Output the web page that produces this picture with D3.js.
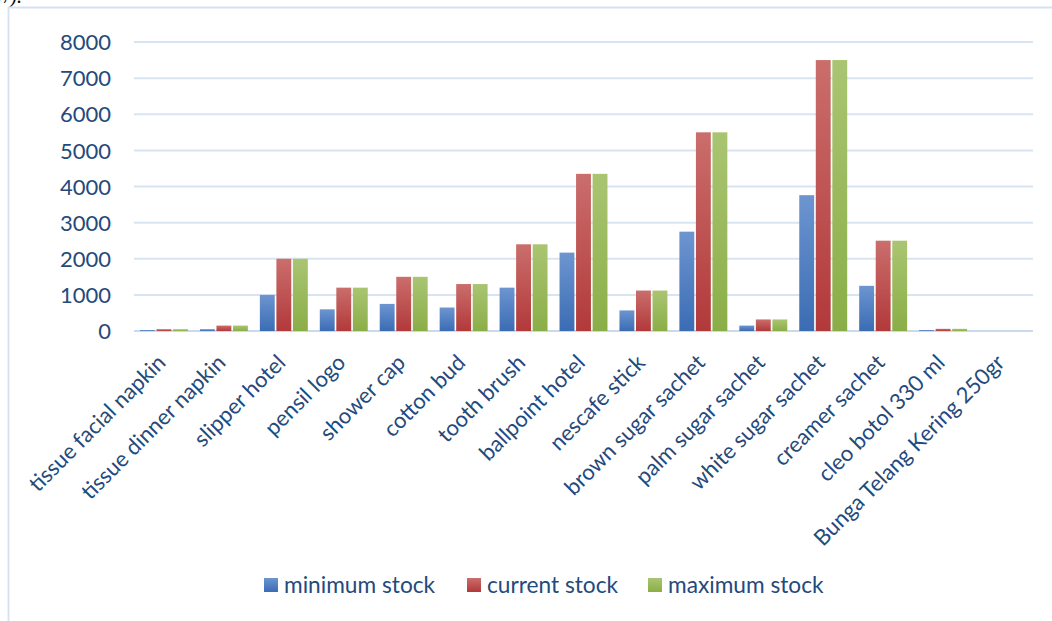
<!DOCTYPE html>
<html><head><meta charset="utf-8">
<script src="https://cdn.jsdelivr.net/npm/d3@7"></script>
<style>
html,body{margin:0;padding:0;background:#fff;overflow:hidden;}
svg{display:block;}
</style></head>
<body>
<svg id="chart" width="1052" height="621"></svg>
<script>
const categories = ["tissue facial napkin","tissue dinner napkin","slipper hotel","pensil logo","shower cap","cotton bud","tooth brush","ballpoint hotel","nescafe stick","brown sugar sachet","palm sugar sachet","white sugar sachet","creamer sachet","cleo botol 330 ml","Bunga Telang Kering 250gr"];
const seriesNames = ["minimum stock","current stock","maximum stock"];
const minimumStock = [25,50,1000,600,750,650,1200,2170,570,2750,150,3760,1250,25,0];
const currentStock = [50,150,2000,1200,1500,1300,2400,4350,1120,5500,320,7500,2500,60,0];
const maximumStock = [50,150,2000,1200,1500,1300,2400,4350,1120,5500,320,7500,2500,60,0];
const yTicks = [0,1000,2000,3000,4000,5000,6000,7000,8000];

const seriesValues = [minimumStock, currentStock, maximumStock];
const colors = [
  {top:"#6d95d0", bot:"#3a6cb4"},
  {top:"#ca6e6c", bot:"#b2393a"},
  {top:"#aac572", bot:"#8aae47"}
];
const textColor = "#244a7c";
const font = "Lato, 'Open Sans', sans-serif";

const svg = d3.select("#chart");
const defs = svg.append("defs");
colors.forEach((c,i)=>{
  const g = defs.append("linearGradient").attr("id","grad"+i).attr("x1",0).attr("y1",0).attr("x2",0).attr("y2",1);
  g.append("stop").attr("offset","0%").attr("stop-color",c.top);
  g.append("stop").attr("offset","100%").attr("stop-color",c.bot);
});

// caption remnant (cut off at top in the reference)
svg.append("text").attr("x",-3).attr("y",3).attr("font-family","'Liberation Serif', serif")
  .attr("font-style","italic").attr("font-size",20).attr("fill","#000").text("r/).");

// frame
svg.append("path").attr("d","M8.5,621 L8.5,7.5 L1052,7.5").attr("fill","none")
  .attr("stroke","#d5e1f1").attr("stroke-width",1.8);

const x0 = d3.scaleBand().domain(categories).range([134,1033]).paddingInner(0.2).paddingOuter(0.1);
const x1 = d3.scaleBand().domain(seriesNames).range([0,x0.bandwidth()]).paddingInner(0.1);
const y = d3.scaleLinear().domain([0,8000]).range([331,42]);

// gridlines
svg.append("g").selectAll("line").data(yTicks).join("line")
  .attr("x1",134).attr("x2",1033)
  .attr("y1",d=>y(d)).attr("y2",d=>y(d))
  .attr("stroke",d=>d===0?"#cbd9ec":"#d9e4f3").attr("stroke-width",2);

// y axis labels
const yAxis = d3.axisLeft(y).tickValues(yTicks).tickSize(0).tickPadding(0).tickFormat(d3.format("d"));
const ya = svg.append("g").attr("transform","translate(111,0)").call(yAxis);
ya.select(".domain").remove();
ya.selectAll("text").attr("font-family",font).attr("font-size",22).attr("fill",textColor).attr("dy","0.35em");

// bars
const groups = svg.append("g").selectAll("g").data(categories).join("g")
  .attr("transform",d=>`translate(${x0(d)},0)`);
groups.selectAll("rect").data((d,ci)=>seriesNames.map((s,si)=>({s,si,v:seriesValues[si][ci]}))).join("rect")
  .attr("x",d=>x1(d.s)).attr("width",x1.bandwidth())
  .attr("y",d=>y(d.v)).attr("height",d=>y(0)-y(d.v))
  .attr("fill",d=>`url(#grad${d.si})`);

// x axis labels
const xa = svg.append("g").attr("transform",`translate(0,${y(0)})`)
  .call(d3.axisBottom(x0).tickSize(0).tickPadding(0));
xa.select(".domain").remove();
xa.selectAll("text").attr("font-family",font).attr("font-size",22).attr("fill",textColor)
  .attr("text-anchor","end").attr("dy",null).attr("y",0)
  .attr("transform","translate(3,33) rotate(-45)");

// legend
const legendX = [264,467,648];
const lg = svg.append("g").selectAll("g").data(seriesNames).join("g")
  .attr("transform",(d,i)=>`translate(${legendX[i]},578)`);
lg.append("rect").attr("width",14).attr("height",14).attr("fill",(d,i)=>`url(#grad${i})`);
lg.append("text").attr("x",20).attr("y",7).attr("dy","0.35em").attr("font-family",font)
  .attr("font-size",22.7).attr("fill",textColor).text(d=>d);
</script>
</body></html>
